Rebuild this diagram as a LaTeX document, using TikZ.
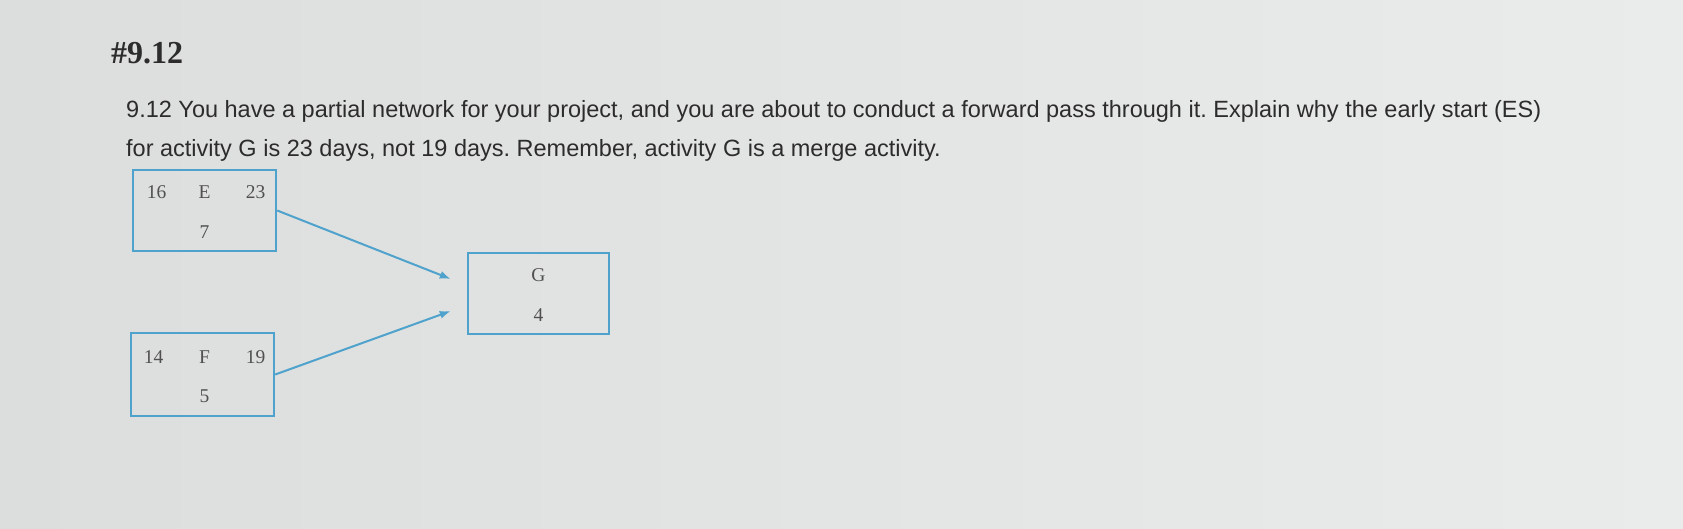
\documentclass[tikz,border=0pt]{standalone}
\usepackage{fontspec}
\setmainfont{Liberation Serif}
\newfontfamily\qfont{Liberation Sans}
\usetikzlibrary{arrows.meta}
\definecolor{paper}{RGB}{220,222,221}
\definecolor{paperlight}{RGB}{234,236,235}
\definecolor{boxblue}{RGB}{78,162,204}
\definecolor{inkgray}{RGB}{44,44,44}
\definecolor{numgray}{RGB}{80,80,80}
\frenchspacing
\begin{document}
\begin{tikzpicture}[x=1pt,y=-1pt,>={Latex[length=11,width=8]}]
        % Styles
        \tikzstyle{activity} = [rectangle, draw=boxblue, line width=2.4pt,
                                minimum width=143, minimum height=81, inner sep=0pt]
        \tikzstyle{entry} = [text=numgray, font=\fontsize{19.5}{19.5}\selectfont, inner sep=0pt]
        \tikzstyle{question} = [anchor=base west, text=inkgray, inner sep=0pt,
                                font=\qfont\fontsize{23.5}{26}\selectfont]
        \tikzstyle{arrow} = [->, draw=boxblue, line width=2pt]

        % ==== Background ====
        \shade[left color=paper, right color=paperlight] (0,0) rectangle (1683,528);
        \useasboundingbox (0,0) rectangle (1683,528);

        % ==== Heading and question ====
        \node[anchor=base west, text=inkgray, inner sep=0pt,
              font=\bfseries\fontsize{32}{32}\selectfont] (title) at (111,63) {\#9.12};
        \node[question] (line1) at (126,117) {9.12 You have a partial network for your project, and you are about to conduct a forward pass through it. Explain why the early start (ES)};
        \node[question] (line2) at (126,156) {for activity G is 23 days, not 19 days. Remember, activity G is a merge activity.};

        % ==== Activity boxes ====
        \node[activity] (E) at (204.5,210.5) {};
        \node[activity, minimum height=83] (F) at (202.5,374.5) {};
        \node[activity, minimum width=141] (G) at (538.5,293.5) {};

        % box contents: ES, name, EF on top, duration below
        \node[entry] (Ees)  at ([shift={(-48,-18.5)}]E.center) {16};
        \node[entry] (Ename) at ([shift={(0,-18.5)}]E.center) {E};
        \node[entry] (Eef)  at ([shift={(51,-18.5)}]E.center) {23};
        \node[entry] (Edur) at ([shift={(0,21.5)}]E.center) {7};

        \node[entry] (Fes)  at ([shift={(-49,-17.5)}]F.center) {14};
        \node[entry] (Fname) at ([shift={(2,-17.5)}]F.center) {F};
        \node[entry] (Fef)  at ([shift={(53,-17.5)}]F.center) {19};
        \node[entry] (Fdur) at ([shift={(2,21.5)}]F.center) {5};

        \node[entry] (Gname) at ([shift={(0,-18.5)}]G.center) {G};
        \node[entry] (Gdur)  at ([shift={(0,21.5)}]G.center) {4};

        % ==== Arrows (stop short of G) ====
        \coordinate (Gin1) at ([shift={(-16,-14.5)}]G.west);
        \coordinate (Gin2) at ([shift={(-16,17.5)}]G.west);
        \draw[arrow] (E.east) -- (Gin1);
        \draw[arrow] (F.east) -- (Gin2);
    \end{tikzpicture}
\end{document}
